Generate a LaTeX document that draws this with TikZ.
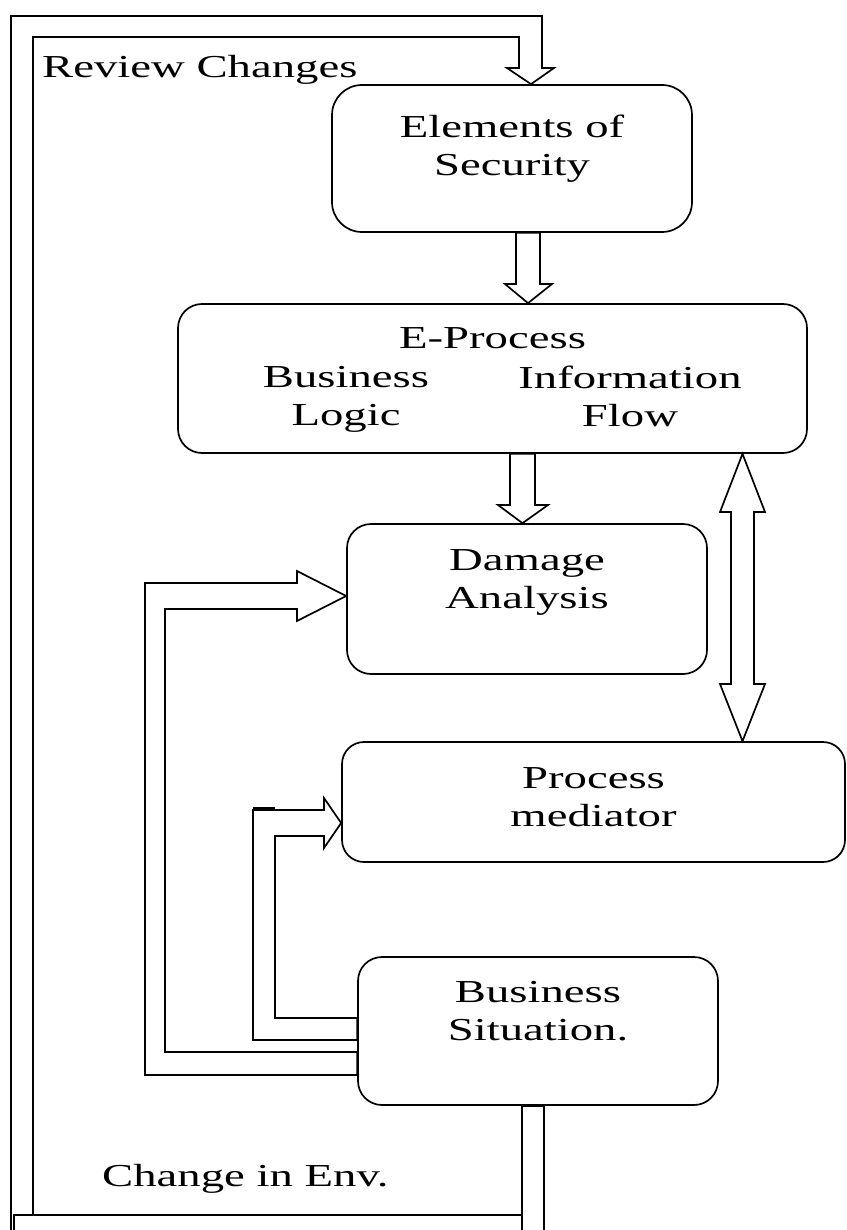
\documentclass[tikz,border=0pt]{standalone}
\usepackage{fontspec}
\setmainfont{Liberation Serif}[FakeStretch=1.46]
\usetikzlibrary{positioning}
\begin{document}
\begin{tikzpicture}[x=1pt,y=-1pt,
                    box/.style={draw,line width=1.7pt,rounded corners=24pt,inner sep=0pt},
                    blockline/.style={draw,line width=1.7pt,fill=white,line join=miter},
                    lbl/.style={align=center,inner sep=0pt,font=\fontsize{32}{38}\selectfont}]
                    \useasboundingbox (0,0) rectangle (846,1230);
                    \clip (0,0) rectangle (846,1230);
                    \node[box,minimum width=360pt,minimum height=147pt,rounded corners=30pt] (elem) at (512,158.5) {};
                    \node[box,minimum width=629pt,minimum height=149pt] (eproc) at (492.5,378.5) {};
                    \node[box,minimum width=360pt,minimum height=150pt] (dmg) at (527,599) {};
                    \node[box,minimum width=503pt,minimum height=120pt,rounded corners=22pt] (pmed) at (593.5,802) {};
                    \node[box,minimum width=360pt,minimum height=148pt] (bsit) at (538,1031) {};
                    \node[lbl,below=31pt of elem.north] (elemtxt) {Elements of\\Security};
                    \node[lbl,below=24pt of eproc.north] (eptitle) {E-Process};
                    \node[lbl,anchor=north] (eplogic) at (346,366) {Business\\Logic};
                    \node[lbl,anchor=north] (epflow) at (630,366) {Information\\Flow};
                    \node[lbl,below=26pt of dmg.north] (dmgtxt) {Damage\\Analysis};
                    \node[lbl,below=26pt of pmed.north] (pmedtxt) {Process\\mediator};
                    \node[lbl,below=25pt of bsit.north] (bsittxt) {Business\\Situation.};
                    \node[lbl,anchor=base west] (review) at (42,78) {Review Changes};
                    \node[lbl,anchor=base west] (envchange) at (102,1186) {Change in Env.};
                    \draw[blockline] (11,1240) -- (11,16) -- (542,16) -- (542,68) -- (554,68) -- (531,0 |- elem.north)
                        -- (507,68) -- (519,68) -- (519,37) -- (33,37) -- (33,1240) -- cycle;
                    \draw[blockline] (14,1215) rectangle (522,1240);
                    \draw[blockline] (522,0 |- bsit.south) rectangle (544,1240);
                    \draw[blockline] (516,0 |- elem.south) -- (516,284) -- (505,284) -- (528,0 |- eproc.north)
                        -- (552,284) -- (540,284) -- (540,0 |- elem.south) -- cycle;
                    \draw[blockline] (510,0 |- eproc.south) -- (510,505) -- (498,505) -- (522.5,0 |- dmg.north)
                        -- (548,505) -- (535,505) -- (535,0 |- eproc.south) -- cycle;
                    \draw[blockline] (742.5,0 |- eproc.south) -- (765,512) -- (754,512) -- (754,684) -- (765,684)
                        -- (742.5,0 |- pmed.north) -- (720,684) -- (731,684) -- (731,512) -- (720,512) -- cycle;
                    \draw[blockline] (bsit.west |- 0,1052) -- (165,1052) -- (165,609) -- (297,609) -- (297,621)
                        -- (dmg.west |- 0,596) -- (297,571) -- (297,583) -- (145,583) -- (145,1075) -- (bsit.west |- 0,1075) -- cycle;
                    \draw[blockline] (bsit.west |- 0,1018) -- (275,1018) -- (275,836) -- (324,836) -- (324,848)
                        -- (pmed.west |- 0,823) -- (324,798) -- (324,810) -- (253,810) -- (253,1040) -- (bsit.west |- 0,1040) -- cycle;
                    \draw[line width=3pt] (253,808) -- (275,808);
                \end{tikzpicture}
\end{document}
